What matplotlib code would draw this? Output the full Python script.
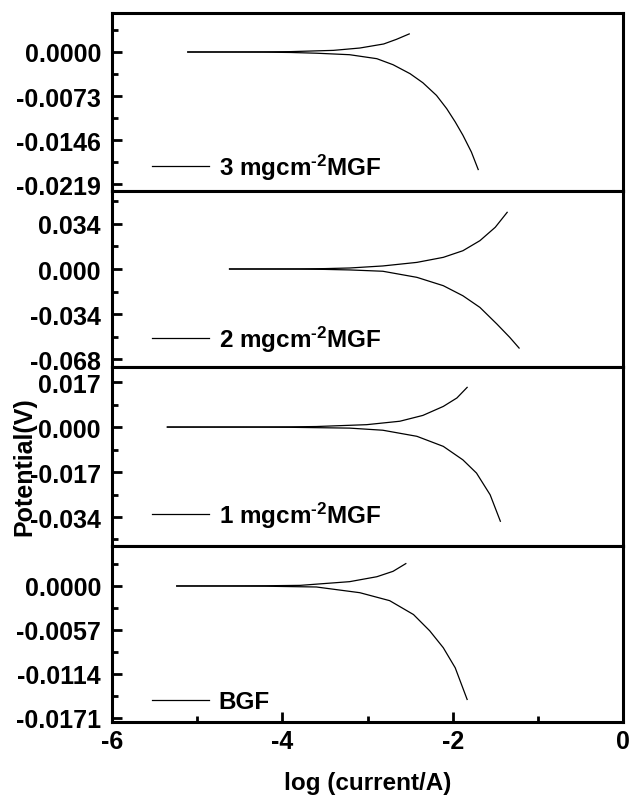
import matplotlib
matplotlib.use("Agg")
import matplotlib.pyplot as plt
from matplotlib.lines import Line2D
from matplotlib.ticker import FixedLocator, FixedFormatter, AutoMinorLocator

plt.rcParams['font.family'] = ['Liberation Sans', 'DejaVu Sans']
plt.rcParams['font.weight'] = 'bold'
plt.rcParams['mathtext.fontset'] = 'custom'
plt.rcParams['mathtext.rm'] = 'Liberation Sans:bold'
plt.rcParams['mathtext.default'] = 'rm'

labels = ['3 mgcm$^{\\text{-2}}$MGF', '2 mgcm$^{\\text{-2}}$MGF', '1 mgcm$^{\\text{-2}}$MGF', 'BGF']

# anodic branches (log current, potential)
an_x = [
    [-5.11, -4.6, -4.2, -3.91, -3.40, -3.09, -2.81, -2.66, -2.51],
    [-4.62, -4.2, -3.8, -3.50, -3.21, -2.82, -2.42, -2.11, -1.88, -1.68, -1.50, -1.36],
    [-5.35, -4.8, -4.3, -3.90, -3.60, -3.01, -2.62, -2.35, -2.11, -1.95, -1.83],
    [-5.24, -4.7, -4.2, -3.79, -3.21, -2.89, -2.70, -2.55],
]
an_y = [
    [0, 0.00001, 0.00003, 0.00006, 0.00027, 0.00066, 0.00133, 0.0021, 0.0030],
    [0, 0.00005, 0.0001, 0.0003, 0.00076, 0.0023, 0.0050, 0.0088, 0.0138, 0.0214, 0.0315, 0.0428],
    [0, 0.00001, 0.00003, 0.00008, 0.0002, 0.0009, 0.0022, 0.0044, 0.0078, 0.0110, 0.0150],
    [0, 0.00001, 0.00003, 0.00008, 0.00056, 0.0012, 0.0019, 0.0029],
]
# cathodic branches
ca_x = [
    [-5.11, -4.6, -4.2, -3.90, -3.60, -3.21, -2.89, -2.70, -2.50, -2.35, -2.19, -2.07, -1.97, -1.88, -1.78, -1.70],
    [-4.62, -4.2, -3.8, -3.50, -3.21, -2.82, -2.42, -2.11, -1.88, -1.68, -1.48, -1.33, -1.22],
    [-5.35, -4.8, -4.3, -3.90, -3.21, -2.82, -2.42, -2.11, -1.88, -1.72, -1.56, -1.44],
    [-5.24, -4.7, -4.2, -3.60, -3.09, -2.74, -2.46, -2.27, -2.11, -1.97, -1.83],
]
ca_y = [
    [0, -0.00001, -0.00003, -0.00008, -0.0002, -0.00045, -0.00111, -0.00211, -0.0036, -0.0051, -0.0072, -0.0094, -0.0116, -0.0138, -0.0166, -0.0195],
    [0, -0.00005, -0.0001, -0.0003, -0.0007, -0.0017, -0.0063, -0.0126, -0.0202, -0.0290, -0.0416, -0.0516, -0.0597],
    [0, -0.00001, -0.00003, -0.0001, -0.0004, -0.0012, -0.0035, -0.0073, -0.0124, -0.0174, -0.0256, -0.0356],
    [0, -0.00001, -0.00003, -0.00013, -0.00087, -0.0019, -0.0037, -0.0058, -0.0080, -0.0106, -0.0147],
]

ytick_vals = [
    [0.0, -0.0073, -0.0146, -0.0219],
    [0.034, 0.0, -0.034, -0.068],
    [0.017, 0.0, -0.017, -0.034],
    [0.0, -0.0057, -0.0114, -0.0171],
]
ytick_text = [
    ['0.0000', '-0.0073', '-0.0146', '-0.0219'],
    ['0.034', '0.000', '-0.034', '-0.068'],
    ['0.017', '0.000', '-0.017', '-0.034'],
    ['0.0000', '-0.0057', '-0.0114', '-0.0171'],
]
ylims = [(-0.02306, 0.00647), (-0.074, 0.0589), (-0.04496, 0.0227), (-0.01762, 0.00518)]
leg_y = [0.135, 0.16, 0.175, 0.115]

fig = plt.figure(figsize=(6.29, 8.03), dpi=100)
tops = [14, 192, 368, 547, 723]
L, R = 112 / 629, 623 / 629

for i in range(4):
    b = 1 - tops[i + 1] / 803
    h = (tops[i + 1] - tops[i]) / 803
    ax = fig.add_axes([L, b, R - L, h])
    ax.plot(an_x[i], an_y[i], color='black', lw=0.9)
    ax.plot(ca_x[i], ca_y[i], color='black', lw=0.9)
    ax.set_xlim(-6, 0)
    ax.set_ylim(*ylims[i])
    for s in ax.spines.values():
        s.set_linewidth(2.2)
    ax.yaxis.set_major_locator(FixedLocator(ytick_vals[i]))
    ax.yaxis.set_major_formatter(FixedFormatter(ytick_text[i]))
    ax.yaxis.set_minor_locator(AutoMinorLocator(2))
    ax.tick_params(axis='y', which='major', direction='in', length=7, width=2, labelsize=18, pad=8)
    ax.tick_params(axis='y', which='minor', direction='in', length=4.5, width=2)
    if i < 3:
        ax.tick_params(axis='x', which='both', bottom=False, labelbottom=False)
    else:
        ax.set_xticks([-6, -4, -2, 0])
        ax.set_xticklabels(['-6', '-4', '-2', '0'])
        ax.xaxis.set_minor_locator(FixedLocator([-5, -3, -1]))
        ax.tick_params(axis='x', which='major', direction='in', length=7, width=2, labelsize=18, pad=5)
        ax.tick_params(axis='x', which='minor', direction='in', length=4.5, width=2)
        ax.set_xlabel('log (current/A)', fontsize=17.5, fontweight='bold', labelpad=13)
    h_line = Line2D([], [], color='black', lw=0.9)
    ax.legend([h_line], [labels[i]], loc='center left', bbox_to_anchor=(0.078, leg_y[i]),
              frameon=False, fontsize=17.5, handlelength=2.35, handletextpad=0.4,
              borderpad=0, borderaxespad=0)

fig.text(24 / 629, 1 - 467 / 803, 'Potential(V)', rotation=90, ha='center', va='center',
         fontsize=18, fontweight='bold')

fig.savefig('out.png', dpi=100)
